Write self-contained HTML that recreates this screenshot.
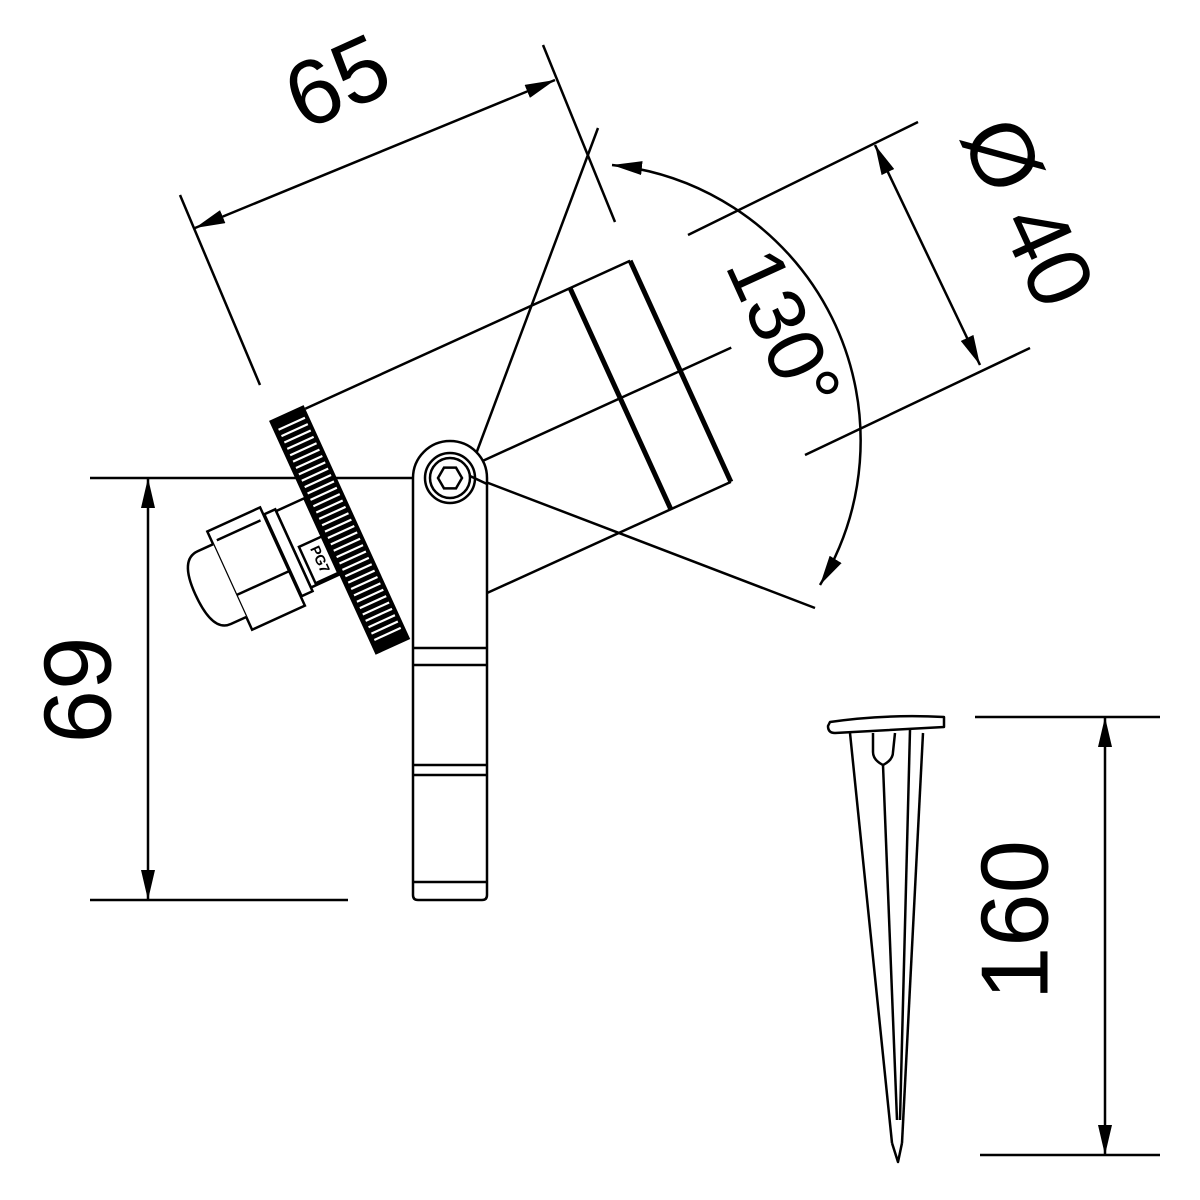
<!DOCTYPE html>
<html><head><meta charset="utf-8"><style>
html,body{margin:0;padding:0;background:#fff;width:1200px;height:1200px;overflow:hidden}
svg{display:block}
text{font-family:"Liberation Sans",sans-serif;fill:#000}
</style></head><body>
<svg width="1200" height="1200" viewBox="0 0 1200 1200" xmlns="http://www.w3.org/2000/svg">
<defs>
<marker id="ar" viewBox="0 0 30 14" refX="30" refY="7" markerWidth="30" markerHeight="14" markerUnits="userSpaceOnUse" orient="auto-start-reverse">
<path d="M0,0 L30,7 L0,14 Z" fill="#000"/>
</marker>
</defs>
<g stroke="#000" fill="none" stroke-width="2.5">
<line x1="180" y1="195" x2="260" y2="385"/>
<line x1="543" y1="45" x2="615" y2="222"/>
<line x1="195" y1="228" x2="555" y2="80" marker-start="url(#ar)" marker-end="url(#ar)"/>
<line x1="688" y1="235" x2="918" y2="122"/>
<line x1="805" y1="455" x2="1030" y2="348"/>
<line x1="875" y1="145" x2="980" y2="365" marker-start="url(#ar)" marker-end="url(#ar)"/>
<line x1="598" y1="128" x2="470" y2="470"/>
<line x1="470" y1="476" x2="815" y2="608"/>
<path d="M612,165 A277,277 0 0 1 820,585" marker-start="url(#ar)" marker-end="url(#ar)"/>
<line x1="90" y1="478" x2="450" y2="478"/>
<line x1="90" y1="900" x2="348" y2="900"/>
<line x1="148" y1="478" x2="148" y2="900" marker-start="url(#ar)" marker-end="url(#ar)"/>
<line x1="975" y1="717" x2="1160" y2="717"/>
<line x1="980" y1="1155" x2="1160" y2="1155"/>
<line x1="1105" y1="717" x2="1105" y2="1155" marker-start="url(#ar)" marker-end="url(#ar)"/>
</g>

<g transform="translate(450,478) rotate(-24.5)" stroke="#000" fill="none" stroke-width="2.5">
<line x1="-103" y1="-123" x2="254" y2="-123"/>
<line x1="-14" y1="120" x2="254" y2="120"/>
<line x1="254" y1="-123" x2="254" y2="120" stroke-width="5"/>
<line x1="188" y1="-123" x2="188" y2="120" stroke-width="5"/>
<line x1="30" y1="-2" x2="310" y2="-2"/>
<rect x="-141" y="-127" width="38" height="257" fill="#000" stroke="none"/>
<g stroke="#fff" stroke-width="2.2">
<line x1="-136" y1="-115" x2="-107" y2="-115"/><line x1="-136" y1="-108" x2="-107" y2="-108"/>
<line x1="-136" y1="-101" x2="-107" y2="-101"/><line x1="-136" y1="-94" x2="-107" y2="-94"/>
<line x1="-136" y1="-87" x2="-107" y2="-87"/><line x1="-136" y1="-80" x2="-107" y2="-80"/>
<line x1="-136" y1="-73" x2="-107" y2="-73"/><line x1="-136" y1="-66" x2="-107" y2="-66"/>
<line x1="-136" y1="-59" x2="-107" y2="-59"/><line x1="-136" y1="-52" x2="-107" y2="-52"/>
<line x1="-136" y1="-45" x2="-107" y2="-45"/><line x1="-136" y1="-38" x2="-107" y2="-38"/>
<line x1="-136" y1="-31" x2="-107" y2="-31"/><line x1="-136" y1="-24" x2="-107" y2="-24"/>
<line x1="-136" y1="-17" x2="-107" y2="-17"/><line x1="-136" y1="-10" x2="-107" y2="-10"/>
<line x1="-136" y1="-3" x2="-107" y2="-3"/><line x1="-136" y1="4" x2="-107" y2="4"/>
<line x1="-136" y1="11" x2="-107" y2="11"/><line x1="-136" y1="18" x2="-107" y2="18"/>
<line x1="-136" y1="25" x2="-107" y2="25"/><line x1="-136" y1="32" x2="-107" y2="32"/>
<line x1="-136" y1="39" x2="-107" y2="39"/><line x1="-136" y1="46" x2="-107" y2="46"/>
<line x1="-136" y1="53" x2="-107" y2="53"/><line x1="-136" y1="60" x2="-107" y2="60"/>
<line x1="-136" y1="67" x2="-107" y2="67"/><line x1="-136" y1="74" x2="-107" y2="74"/>
<line x1="-136" y1="81" x2="-107" y2="81"/><line x1="-136" y1="88" x2="-107" y2="88"/>
<line x1="-136" y1="95" x2="-107" y2="95"/><line x1="-136" y1="102" x2="-107" y2="102"/>
<line x1="-136" y1="109" x2="-107" y2="109"/><line x1="-136" y1="116" x2="-107" y2="116"/>
</g>
<rect x="-172" y="-42" width="31" height="84" fill="#fff"/>
<rect x="-166" y="0" width="25" height="40" fill="#fff"/>
<text x="-153" y="20" font-size="14" font-weight="bold" stroke="none" text-anchor="middle" dominant-baseline="middle" transform="rotate(90 -153 20)">PG7</text>
<rect x="-184" y="-44" width="12" height="90" fill="#fff"/>
<rect x="-243" y="-52" width="58" height="108" fill="#fff"/>
<line x1="-238" y1="-40" x2="-190" y2="-40"/>
<line x1="-243" y1="18" x2="-185" y2="18"/>
<path d="M-243,-38 L-260,-38 Q-280,-38 -280,0 Q-280,42 -260,42 L-243,42" fill="#fff"/>
</g>

<g stroke="#000" fill="none" stroke-width="2.5">
<path d="M413,478 A37,37 0 0 1 487,478 L487,895 Q487,900 482,900 L418,900 Q413,900 413,895 Z" fill="#fff"/>
<circle cx="450" cy="478" r="25"/>
<circle cx="450" cy="478" r="20"/>
<path d="M462,478 L456,488.4 L444,488.4 L438,478 L444,467.6 L456,467.6 Z"/>
<line x1="413" y1="648" x2="487" y2="648"/>
<line x1="413" y1="665" x2="487" y2="665"/>
<line x1="413" y1="765" x2="487" y2="765"/>
<line x1="413" y1="775" x2="487" y2="775"/>
<line x1="413" y1="882" x2="487" y2="882"/>
<line x1="470" y1="476" x2="487" y2="484"/>
</g>

<g stroke="#000" fill="none" stroke-width="2.5" stroke-linejoin="round">
<path d="M830,722 Q885,714 944,717 L944,727 Q890,730 835,733 Q828,733 828,726 Z" fill="#fff"/>
<line x1="850" y1="733" x2="892" y2="1143"/>
<line x1="923" y1="733" x2="902" y2="1143"/>
<path d="M892,1143 L898,1162 L902,1143"/>
<path d="M873,733 L873,752 Q873,760 883,765 Q893,760 893,752 L895,733"/>
<line x1="883" y1="765" x2="897" y2="1120"/>
<line x1="910" y1="730" x2="900" y2="1120"/>
</g>

<text x="340" y="88" font-size="92" text-anchor="middle" dominant-baseline="middle" transform="rotate(-24.5 340 88)">65</text>
<text x="1022" y="215" font-size="90" text-anchor="middle" dominant-baseline="middle" transform="rotate(65.5 1022 215)">Ø 40</text>
<text x="778" y="332" font-size="80" text-anchor="middle" dominant-baseline="middle" transform="rotate(65.5 778 332)">130°</text>
<text x="85" y="690" font-size="96" text-anchor="middle" dominant-baseline="middle" transform="rotate(-90 85 690)">69</text>
<text x="1022" y="920" font-size="96" text-anchor="middle" dominant-baseline="middle" transform="rotate(-90 1022 920)">160</text>
</svg>
</body></html>
